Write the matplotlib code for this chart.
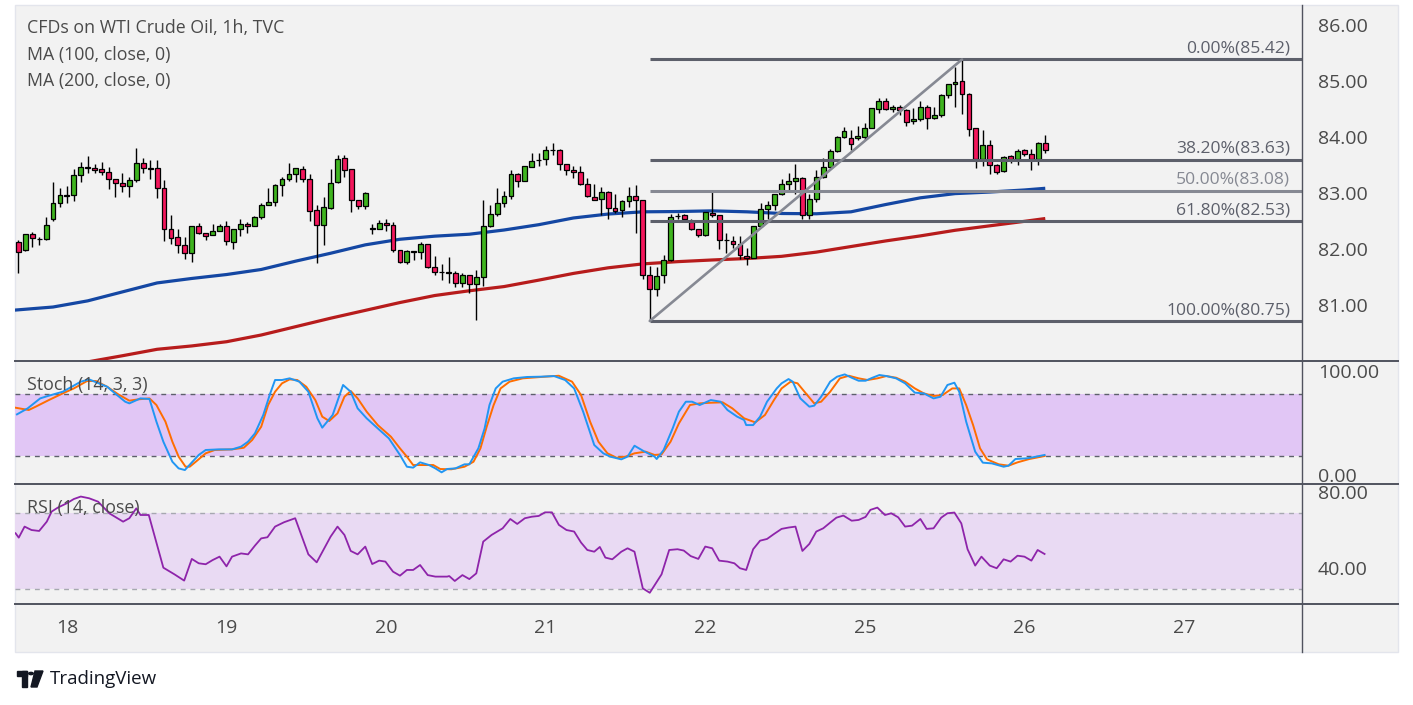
import matplotlib
matplotlib.use("Agg")
import matplotlib.pyplot as plt
import matplotlib.transforms as mtransforms
from matplotlib.patches import Rectangle, Polygon, Circle
from matplotlib.lines import Line2D
import numpy as np

plt.rcParams['font.family'] = ['Open Sans', 'DejaVu Sans']

# ---------------- data ----------------
opens = [82.16, 82.01, 82.30, 82.22, 82.21, 82.57, 82.85, 82.99, 83.00, 83.35,
         83.50, 83.48, 83.46, 83.41, 83.28, 83.21, 83.16, 83.26, 83.58, 83.48,
         83.48, 83.12, 82.39, 82.25, 82.10, 81.96, 82.44, 82.32, 82.28, 82.35,
         82.44, 82.16, 82.39, 82.48, 82.44, 82.60, 82.83, 82.87, 83.17, 83.29,
         83.37, 83.46, 83.28, 82.73, 82.46, 82.76, 83.23, 83.66, 83.46, 82.91,
         82.80, 82.40, 82.39, 82.50, 82.46, 82.01, 81.80, 81.98, 81.98, 82.12,
         81.71, 81.62, 81.62, 81.61, 81.42, 81.57, 81.41, 81.53, 82.44, 82.66,
         82.85, 82.98, 83.37, 83.25, 83.50, 83.62, 83.64, 83.80, 83.80, 83.55,
         83.44, 83.41, 83.19, 82.96, 82.92, 83.05, 82.76, 82.73, 82.89, 82.98,
         82.91, 81.57, 81.32, 81.57, 81.84, 82.62, 82.64, 82.51, 82.39, 82.28,
         82.67, 82.64, 82.19, 82.17, 82.12, 81.91, 81.87, 82.44, 82.75, 82.82,
         83.01, 83.19, 83.25, 83.30, 82.64, 82.92, 83.33, 83.50, 83.78, 84.03,
         84.01, 84.01, 84.03, 84.19, 84.53, 84.67, 84.53, 84.58, 84.51, 84.32,
         84.35, 84.58, 84.37, 84.42, 84.78, 84.98, 85.03, 84.80, 84.19, 83.64,
         83.89, 83.53, 83.42, 83.69, 83.64, 83.80, 83.73, 83.64, 83.92]
highs = [82.20, 82.30, 82.34, 82.25, 82.60, 83.23, 83.12, 83.16, 83.47, 83.59,
         83.70, 83.55, 83.59, 83.50, 83.28, 83.39, 83.33, 83.84, 83.66, 83.63,
         83.63, 83.27, 82.64, 82.39, 82.25, 82.45, 82.50, 82.32, 82.48, 82.48,
         82.54, 82.39, 82.57, 82.51, 82.62, 82.85, 83.12, 83.20, 83.33, 83.57,
         83.49, 83.51, 83.37, 82.82, 82.96, 83.46, 83.72, 83.72, 83.46, 82.91,
         83.05, 82.48, 82.55, 82.58, 82.51, 82.01, 82.01, 81.99, 82.16, 82.12,
         81.91, 81.76, 81.89, 81.64, 81.60, 81.57, 81.66, 82.91, 82.82, 83.12,
         83.07, 83.44, 83.39, 83.51, 83.75, 83.75, 83.88, 83.92, 83.83, 83.55,
         83.51, 83.52, 83.30, 83.19, 83.14, 83.07, 83.01, 82.91, 83.14, 83.17,
         82.91, 81.73, 81.71, 81.92, 82.66, 82.67, 82.66, 82.58, 82.39, 82.69,
         83.05, 82.64, 82.33, 82.26, 82.26, 82.05, 82.44, 82.85, 82.89, 83.01,
         83.28, 83.39, 83.55, 83.32, 83.01, 83.44, 83.66, 83.83, 84.05, 84.21,
         84.16, 84.24, 84.28, 84.55, 84.73, 84.73, 84.60, 84.60, 84.53, 84.55,
         84.67, 84.60, 84.58, 84.80, 84.99, 85.28, 85.42, 84.83, 84.19, 84.16,
         83.98, 83.55, 83.69, 83.71, 83.83, 83.83, 83.82, 83.94, 84.07]
lows = [81.61, 82.00, 82.08, 82.10, 82.19, 82.53, 82.79, 82.86, 82.90, 83.24,
        83.40, 83.39, 83.36, 83.11, 82.97, 83.05, 82.97, 83.23, 83.40, 83.29,
        82.95, 82.17, 82.13, 81.97, 81.85, 81.81, 82.31, 82.19, 82.28, 82.35,
        82.10, 82.03, 82.26, 82.33, 82.44, 82.58, 82.83, 82.81, 82.98, 83.25,
        83.24, 83.23, 82.54, 81.78, 82.10, 82.75, 83.21, 83.32, 82.69, 82.75,
        82.75, 82.30, 82.39, 82.35, 81.98, 81.78, 81.76, 81.84, 81.85, 81.69,
        81.57, 81.48, 81.42, 81.35, 81.35, 81.25, 80.76, 81.37, 82.42, 82.62,
        82.78, 82.92, 83.14, 83.25, 83.50, 83.52, 83.54, 83.71, 83.44, 83.35,
        83.30, 83.17, 82.96, 82.91, 82.64, 82.58, 82.67, 82.60, 82.78, 82.33,
        81.50, 80.75, 81.19, 81.42, 81.82, 82.57, 82.56, 82.37, 82.25, 82.26,
        82.60, 82.03, 81.96, 82.05, 81.85, 81.75, 81.87, 82.42, 82.58, 82.73,
        83.00, 83.08, 83.02, 82.57, 82.58, 82.87, 83.30, 83.48, 83.76, 84.01,
        83.80, 83.99, 83.99, 84.19, 84.46, 84.51, 84.49, 84.42, 84.23, 84.26,
        84.32, 84.17, 84.35, 84.39, 84.74, 84.58, 84.44, 84.05, 83.48, 83.51,
        83.37, 83.37, 83.41, 83.57, 83.53, 83.69, 83.44, 83.53, 83.75]
closes = [81.99, 82.30, 82.23, 82.21, 82.46, 82.85, 83.00, 83.00, 83.35, 83.50,
          83.49, 83.45, 83.41, 83.28, 83.21, 83.16, 83.26, 83.58, 83.48, 83.47,
          83.12, 82.39, 82.23, 82.10, 81.96, 82.44, 82.32, 82.26, 82.35, 82.44,
          82.17, 82.39, 82.48, 82.44, 82.60, 82.83, 82.87, 83.17, 83.29, 83.37,
          83.48, 83.28, 82.71, 82.46, 82.78, 83.21, 83.64, 83.44, 82.91, 82.80,
          83.03, 82.41, 82.50, 82.46, 82.01, 81.80, 82.00, 81.98, 82.12, 81.71,
          81.62, 81.62, 81.61, 81.42, 81.57, 81.41, 81.53, 82.44, 82.66, 82.85,
          82.98, 83.37, 83.25, 83.51, 83.60, 83.63, 83.80, 83.80, 83.55, 83.44,
          83.41, 83.19, 82.98, 82.91, 83.05, 82.76, 82.71, 82.89, 82.98, 82.91,
          81.57, 81.32, 81.55, 81.84, 82.60, 82.62, 82.57, 82.39, 82.28, 82.69,
          82.64, 82.19, 82.19, 82.12, 81.92, 81.87, 82.44, 82.75, 82.82, 83.01,
          83.19, 83.25, 83.30, 82.64, 82.92, 83.33, 83.50, 83.78, 84.03, 84.14,
          83.91, 84.05, 84.19, 84.55, 84.67, 84.53, 84.58, 84.51, 84.30, 84.35,
          84.58, 84.37, 84.42, 84.78, 84.98, 85.01, 84.80, 84.17, 83.64, 83.89,
          83.53, 83.41, 83.67, 83.64, 83.78, 83.73, 83.64, 83.92, 83.80]

ma100_bar = [-0.5, 0, 5, 10, 15, 20, 25, 30, 35, 40, 45, 50, 55, 60, 65, 70, 75,
             80, 85, 90, 95, 100, 105, 110, 115, 120, 125, 130, 135, 140, 145, 148]
ma100 = [80.945, 80.95, 81.00, 81.11, 81.27, 81.43, 81.51, 81.58, 81.67, 81.82,
         81.96, 82.11, 82.21, 82.265, 82.30, 82.375, 82.47, 82.59, 82.66, 82.70,
         82.705, 82.717, 82.70, 82.67, 82.665, 82.70, 82.83, 82.95, 83.025, 83.053,
         83.09, 83.12]
ma200_bar = [5, 10, 15, 20, 25, 30, 35, 40, 45, 50, 55, 60, 65, 70, 75, 80, 85,
             90, 95, 100, 105, 110, 115, 120, 125, 130, 135, 140, 145, 148]
ma200 = [79.93, 80.02, 80.13, 80.245, 80.305, 80.38, 80.50, 80.65, 80.80, 80.94,
         81.08, 81.205, 81.29, 81.365, 81.48, 81.60, 81.70, 81.77, 81.81, 81.84,
         81.866, 81.905, 81.98, 82.08, 82.18, 82.27, 82.37, 82.45, 82.53, 82.58]

fib_ratio_labels = ['0.00%', '38.20%', '50.00%', '61.80%', '100.00%']
fib_prices = [85.42, 83.63, 83.08, 82.53, 80.75]
fib_low_bar, fib_high_bar = 91, 136

k_bar = [-0.2, 1.35, 3.15, 4.4, 6.4, 7.7, 9.0, 10.2, 12.8, 14.1, 15.4, 16.0, 17.6,
         18.9, 19.9, 20.9, 22.2, 23.1, 24.0, 25.1, 26.0, 27.0, 28.9, 30.8, 32.1,
         33.1, 34.1, 35.3, 36.3, 37.0, 38.0, 39.1, 40.5, 41.8, 43.1, 43.8, 45.3,
         46.8, 47.9, 48.9, 50.2, 51.8, 53.4, 55.0, 56.0, 56.9, 57.9, 59.2, 60.1,
         61.0, 61.8, 63.0, 64.3, 65.0, 66.3, 67.2, 67.9, 68.8, 69.8, 71.4, 73.3,
         75.3, 77.2, 78.8, 80.1, 81.4, 83.0, 84.3, 85.3, 86.9, 87.8, 88.8, 90.1,
         91.7, 92.0, 93.0, 94.3, 95.2, 96.2, 97.1, 98.2, 99.8, 101.2, 102.2, 103.6,
         104.6, 104.9, 105.9, 106.9, 107.9, 109.3, 110.0, 111.0, 111.6, 112.7,
         114.0, 114.7, 115.7, 117.0, 118.0, 119.1, 120.1, 121.1, 122.1, 123.1,
         124.1, 125.1, 126.5, 127.8, 129.2, 130.5, 131.9, 132.9, 133.9, 134.9,
         135.6, 136.6, 137.9, 139.0, 140.3, 142.0, 142.7, 143.7, 145.4, 146.7, 147.9]
k_val = [60.1, 65.9, 75.5, 78.1, 81.9, 86.7, 91.6, 93.8, 86.7, 79.4, 72.3, 70.7, 75.5,
         74.9, 53.1, 33.8, 14.5, 8.1, 6.5, 14.5, 21.0, 25.8, 26.4, 26.4, 29.0,
         33.8, 41.8, 59.5, 80.3, 93.2, 93.2, 94.8, 91.6, 81.9, 56.3, 47.3, 59.5,
         88.4, 81.9, 65.9, 56.3, 46.6, 37.0, 21.0, 9.7, 8.8, 13.9, 11.3, 8.1,
         4.3, 7.5, 8.1, 12.0, 12.0, 27.4, 46.6, 69.1, 85.1, 91.6, 94.8, 96.1,
         96.4, 97.0, 93.2, 85.1, 62.7, 30.6, 22.6, 19.4, 16.8, 19.4, 29.9, 24.8,
         19.4, 17.1, 25.8, 46.6, 62.7, 72.3, 72.3, 69.1, 73.9, 72.3, 64.3, 57.9,
         54.7, 49.8, 49.8, 57.9, 72.3, 85.1, 90.0, 94.1, 91.6, 75.5,
         67.5, 68.5, 77.1, 91.6, 96.4, 98.6, 95.4, 92.5, 92.5, 95.4,
         98.0, 97.0, 94.8, 90.0, 81.0, 80.3, 75.5, 77.1, 88.4, 90.6,
         81.9, 53.1, 24.2, 13.6, 12.9, 9.7, 10.7, 17.1, 17.8, 19.4, 21.0]
d_bar = [-0.4, 1.5, 2.5, 4.4, 6.4, 8.0, 9.9, 11.2, 12.8, 14.4, 16.0, 17.3, 18.9, 19.9,
         21.2, 22.2, 23.1, 24.1, 24.7, 25.7, 27.0, 28.3, 30.8, 32.5, 33.7, 35.0,
         36.0, 37.0, 38.0, 39.1, 40.2, 41.5, 42.8, 43.8, 44.8, 46.0, 47.0, 47.9,
         48.9, 50.2, 51.8, 53.7, 55.0, 56.0, 56.9, 58.2, 59.8, 60.8, 62.4, 64.3,
         65.6, 66.6, 67.5, 68.5, 69.5, 70.8, 72.7, 75.3, 77.9, 79.8, 81.1, 82.4,
         83.6, 84.9, 86.2, 87.5, 88.8, 90.4, 91.7, 92.7, 94.0, 95.2, 96.8, 98.2,
         99.8, 101.5, 102.9, 104.6, 106.2, 107.6, 108.9, 110.0, 111.3, 112.3,
         113.7, 114.7, 115.7, 117.0, 118.4, 119.7, 121.1, 122.4, 123.8, 125.1,
         126.5, 127.8, 129.2, 130.5, 131.9, 133.2, 134.6, 135.6, 136.6, 137.6,
         138.6, 139.6, 141.3, 142.7, 144.0, 145.7, 147.9]
d_val = [66.5, 64.3, 67.5, 73.9, 80.3, 85.1, 92.2, 92.2, 86.7, 79.4, 73.3, 74.6, 75.5, 69.1,
         53.1, 33.8, 19.4, 9.7, 9.7, 15.2, 22.6, 25.8, 26.4, 28.0, 35.4, 48.2,
         69.1, 81.9, 90.0, 93.8, 93.2, 86.7, 73.9, 57.9, 53.7, 61.1, 77.1, 82.6,
         75.5, 62.7, 49.8, 38.6, 27.4, 19.4, 11.3, 11.3, 11.3, 7.5, 7.2, 9.7,
         14.5, 27.4, 48.2, 69.1, 85.1, 91.6, 94.8, 96.1, 97.3, 91.6, 78.7, 53.1,
         33.8, 22.6, 18.4, 19.4, 22.6, 24.2, 21.0, 21.6, 33.8, 51.4, 69.1, 70.7,
         71.3, 71.7, 65.9, 56.3, 52.4, 59.5, 73.9, 85.1, 91.6, 90.0,
         78.7, 70.7, 72.3, 81.9, 94.8, 97.3, 94.8, 93.2, 94.8, 97.0,
         95.4, 91.6, 85.1, 80.3, 77.8, 78.7, 85.1, 85.1, 69.1, 49.8,
         27.4, 16.8, 12.0, 10.7, 13.9, 17.1, 20.0]

rsi_bar = [-0.4, 0.06, 0.9, 1.9, 3.0, 4.1, 4.8, 5.7, 7.0, 8.0, 9.0, 10.2, 11.5, 13.1,
           15.1, 16.0, 17.0, 17.6, 18.8, 20.9, 22.5, 23.9, 25.0, 26.0, 27.0, 28.0,
           29.0, 30.0, 30.8, 32.1, 33.1, 34.1, 35.0, 35.9, 37.0, 38.3, 39.9, 41.8,
           43.0, 45.0, 46.0, 47.0, 47.9, 48.9, 50.0, 51.0, 52.0, 52.9, 54.0, 55.0,
           56.0, 56.9, 57.9, 59.0, 60.1, 61.8, 62.1, 62.9, 64.0, 65.0, 66.0, 67.0,
           68.2, 69.8, 70.9, 71.9, 73.0, 74.0, 75.0, 75.9, 76.9, 77.9, 79.0, 80.1,
           81.1, 82.0, 83.0, 83.8, 84.6, 85.6, 86.9, 87.8, 88.8, 90.0, 91.0, 92.7,
           93.8, 95.0, 95.9, 96.9, 98.0, 99.0, 100.0, 101.0, 102.2, 103.2, 104.0,
           104.9, 105.9, 106.9, 107.9, 108.9, 110.0, 111.0, 112.0, 113.0, 114.0,
           115.0, 116.0, 117.0, 117.9, 118.9, 120.1, 121.1, 122.1, 122.8, 123.8,
           124.9, 125.8, 126.8, 127.8, 128.8, 130.0, 130.9, 131.9, 133.0, 133.9,
           134.9, 135.9, 136.8, 137.9, 138.8, 140.0, 141.0, 142.0, 143.0, 144.0,
           145.0, 146.0, 146.9, 147.9]
rsi_val = [59.5, 57.2, 63.0, 61.2, 60.7, 65.6, 70.9, 73.0, 75.3, 77.5, 78.8, 77.9, 76.1, 70.0,
           65.6, 67.4, 72.6, 69.1, 69.1, 41.4, 37.9, 34.6, 46.0, 43.7, 43.2, 45.4,
           47.2, 42.1, 47.2, 48.9, 48.4, 53.0, 56.8, 57.4, 63.0, 65.3, 67.4, 48.4,
           44.2, 57.7, 63.0, 58.6, 50.2, 48.4, 52.5, 43.3, 45.1, 44.6, 39.3, 37.2,
           40.2, 40.2, 42.8, 37.5, 36.7, 36.7, 37.0, 34.4, 37.5, 35.4, 38.4, 55.1,
           58.6, 62.1, 67.0, 64.4, 67.4, 68.2, 68.6, 70.5, 70.5, 63.9, 61.2, 60.4,
           54.6, 50.7, 49.8, 52.3, 46.7, 45.8, 49.8, 51.6, 49.8, 30.5, 28.2, 37.9,
           50.7, 51.1, 50.4, 47.5, 46.0, 52.5, 51.6, 45.1, 44.6, 43.7, 41.1,
           40.2, 51.1, 55.6, 56.5, 59.1, 61.8, 62.5, 63.0, 50.2, 53.9,
           60.4, 62.1, 65.1, 67.7, 68.8, 66.1, 66.5, 68.1, 71.8, 73.0,
           69.1, 70.0, 67.9, 63.0, 63.5, 67.0, 61.8, 62.1, 67.7, 70.0,
           70.4, 64.7, 51.1, 42.5, 47.2, 42.5, 41.1, 45.8, 44.6, 47.7,
           47.2, 45.1, 50.7, 48.6]

day_bar = [7, 30, 53, 76, 99, 122, 145, 168]
day_label = ['18', '19', '20', '21', '22', '25', '26', '27']
price_ticks = [86, 85, 84, 83, 82, 81]
stoch_ticks = [100, 0]
rsi_ticks = [80, 40]

# ---------------- layout ----------------
W, H = 1413, 705
def fx(px): return px / W
def fy(py): return 1 - py / H

fig = plt.figure(figsize=(W / 100, H / 100), dpi=100)
fig.patch.set_facecolor('white')

L, R = 15, 1302          # plot area x (px)
RIGHT_EDGE = 1398
TOP, S1, S2, S3, BOT = 5, 361, 484, 604, 652

fig.patches.append(Rectangle((fx(L), fy(BOT)), fx(RIGHT_EDGE) - fx(L), fy(TOP) - fy(BOT),
                             transform=fig.transFigure, facecolor='#f2f2f2',
                             edgecolor='#e3e5ec', lw=1.0, zorder=-10))

def make_ax(top, bottom):
    ax = fig.add_axes([fx(L), fy(bottom), fx(R) - fx(L), fy(top) - fy(bottom)])
    ax.set_facecolor('none')
    for s in ax.spines.values():
        s.set_visible(False)
    ax.set_xticks([]); ax.set_yticks([])
    ax.set_xlim(-0.48, 185.0)
    return ax

ax = make_ax(TOP, S1)
axs = make_ax(S1, S2)
axr = make_ax(S2, S3)
ax.set_ylim(80.036, 86.393)
axs.set_ylim(-6.95, 111.5)
axr.set_ylim(22.3, 85.4)

TXT = '#4a4a4a'
GREEN = '#3fb41f'
RED = '#f3175c'

# ---------------- main panel ----------------
o = np.array(opens); h = np.array(highs); l = np.array(lows); c = np.array(closes)
x = np.arange(len(o))
ax.plot(ma100_bar, ma100, color='#1447a3', lw=2.3, zorder=2, solid_capstyle='butt')
ax.plot(ma200_bar, ma200, color='#b71c1c', lw=2.3, zorder=2, solid_capstyle='butt')

ax.vlines(x, l, h, color='black', lw=1.0, zorder=3)
up = c >= o
body_bot = np.minimum(o, c)
body_h = np.maximum(np.abs(c - o), 0.012)
ax.bar(x, body_h, bottom=body_bot, width=0.7,
       color=np.where(up, GREEN, RED), edgecolor='black', linewidth=0.9, zorder=4)

fib_colors = ['#5d606b', '#5d606b', '#868993', '#5d606b', '#5d606b']
for lab, p, col in zip(fib_ratio_labels, fib_prices, fib_colors):
    ax.plot([fib_low_bar, 185.0], [p, p], color=col, lw=2.2, zorder=5, solid_capstyle='butt')
    tr = mtransforms.offset_copy(
        mtransforms.blended_transform_factory(fig.transFigure, ax.transData),
        fig=fig, x=0, y=11, units='dots')
    ax.text(fx(1290), p, f'{lab}({p:.2f})', transform=tr, ha='right', va='center',
            fontsize=12.6, color=col, zorder=6)
ax.plot([fib_low_bar, fib_high_bar], [fib_prices[-1], fib_prices[0]],
        color='#868993', lw=1.9, zorder=5, solid_capstyle='round')

# ---------------- stoch ----------------
axs.axhspan(20, 80, color='#e1c6f5', zorder=0, lw=0)
for v in (80, 20):
    axs.axhline(v, color='#5d606b', lw=1.0, ls=(0, (3.5, 3.5)), zorder=1)
axs.plot(d_bar, d_val, color='#ff6d00', lw=1.4, zorder=3)
axs.plot(k_bar, k_val, color='#2196f3', lw=1.4, zorder=4)

# ---------------- RSI ----------------
axr.axhspan(30, 70, color='#e9daf3', zorder=0, lw=0)
for v in (70, 30):
    axr.axhline(v, color='#a6a8b0', lw=1.0, ls=(0, (3.5, 3.5)), zorder=1)
axr.plot(rsi_bar, rsi_val, color='#8e24aa', lw=1.3, zorder=3)

# ---------------- separators ----------------
for yy in (S1, S2, S3):
    fig.add_artist(Line2D([fx(L), fx(RIGHT_EDGE)], [fy(yy), fy(yy)], transform=fig.transFigure,
                          color='#50535e', lw=1.4, zorder=10))
fig.add_artist(Line2D([fx(R), fx(R)], [fy(TOP), fy(BOT)], transform=fig.transFigure,
                      color='#50535e', lw=1.0, zorder=10))

# ---------------- axis labels ----------------
def axis_labels(axis, ticks):
    tr = mtransforms.blended_transform_factory(fig.transFigure, axis.transData)
    for t in ticks:
        axis.text(fx(1318), t, f'{t:.2f}', transform=tr, ha='left', va='center',
                  fontsize=14, color=TXT, clip_on=False)

axis_labels(ax, price_ticks)
axis_labels(axs, stoch_ticks)
axis_labels(axr, rsi_ticks)

trx = mtransforms.blended_transform_factory(axr.transData, fig.transFigure)
for b, lab in zip(day_bar, day_label):
    axr.text(b, fy(628), lab, transform=trx, ha='center', va='center',
             fontsize=14, color=TXT, clip_on=False)

# ---------------- legends ----------------
LEG = 12.8
fig.text(fx(27), fy(28), 'CFDs on WTI Crude Oil, 1h, TVC', fontsize=LEG, color=TXT, va='center')
fig.text(fx(27), fy(55), 'MA (100, close, 0)', fontsize=LEG, color=TXT, va='center')
fig.text(fx(27), fy(81), 'MA (200, close, 0)', fontsize=LEG, color=TXT, va='center')
fig.text(fx(27), fy(385), 'Stoch (14, 3, 3)', fontsize=LEG, color=TXT, va='center', zorder=20)
fig.text(fx(27), fy(508), 'RSI (14, close)', fontsize=LEG, color=TXT, va='center', zorder=20)

# ---------------- TradingView logo ----------------
LOGO = '#131722'
fig.patches.append(Rectangle((fx(17), fy(676)), fx(27) - fx(17), fy(671) - fy(676),
                             transform=fig.transFigure, color=LOGO))
fig.patches.append(Rectangle((fx(22), fy(687)), fx(27) - fx(22), fy(671) - fy(687),
                             transform=fig.transFigure, color=LOGO))
fig.patches.append(Circle((fx(31), fy(673.5)), 2.3 / W, transform=fig.transFigure, color=LOGO))
fig.patches.append(Polygon([(fx(35), fy(671)), (fx(43), fy(671)), (fx(37), fy(687)), (fx(31), fy(687))],
                           closed=True, transform=fig.transFigure, color=LOGO))
fig.text(fx(50), fy(679), 'TradingView', fontsize=13.5, color=LOGO, va='center')

fig.savefig('out.png', dpi=100, facecolor='white')
